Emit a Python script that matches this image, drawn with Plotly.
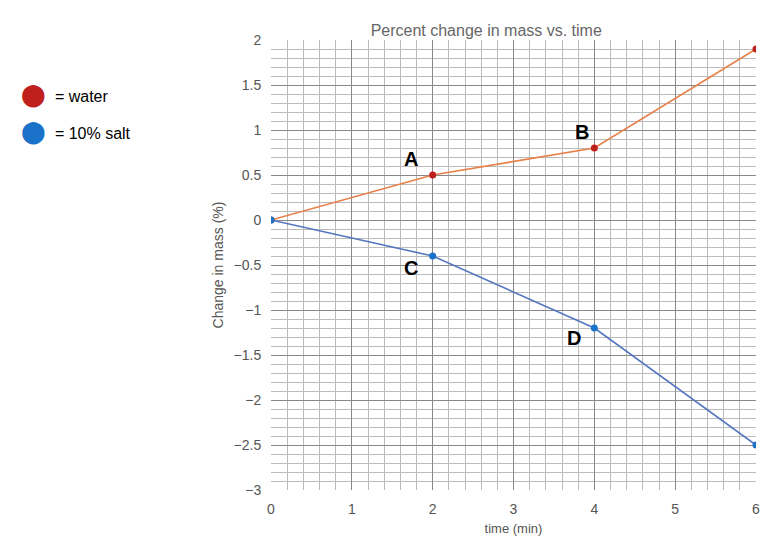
import plotly.graph_objects as go

time_min = [0, 2, 4, 6]
water = [0, 0.5, 0.8, 1.9]
salt = [0, -0.4, -1.2, -2.5]
point_labels = [("A", 2, 0.5), ("B", 4, 0.8), ("C", 2, -0.4), ("D", 4, -1.2)]

fig = go.Figure()
fig.add_trace(go.Scatter(x=time_min, y=water, mode="lines+markers",
                         line=dict(color="#e8804a", width=1.6),
                         marker=dict(color="#c0201c", size=7)))
fig.add_trace(go.Scatter(x=time_min, y=salt, mode="lines+markers",
                         line=dict(color="#5577c0", width=1.6),
                         marker=dict(color="#1a73c8", size=7)))

offsets = {"A": (-22, -16), "B": (-12, -16), "C": (-22, 12), "D": (-20, 10)}
for lab, x, y in point_labels:
    dx, dy = offsets[lab]
    fig.add_annotation(x=x, y=y, text="<b>%s</b>" % lab, showarrow=False,
                       xshift=dx, yshift=-dy, font=dict(size=20, color="black", family="Arial"))

# legend drawn at left
fig.add_annotation(xref="paper", yref="paper", x=-0.52, y=0.91,
                   text="<span style='color:#c0201c;font-size:22px'>⬤</span>  = water",
                   showarrow=False, xanchor="left", font=dict(size=16, color="black", family="Arial"))
fig.add_annotation(xref="paper", yref="paper", x=-0.52, y=0.83,
                   text="<span style='color:#1a73c8;font-size:22px'>⬤</span>  = 10% salt",
                   showarrow=False, xanchor="left", font=dict(size=16, color="black", family="Arial"))

fig.update_layout(
    width=784, height=548, showlegend=False,
    plot_bgcolor="white", paper_bgcolor="white",
    margin=dict(l=263, r=36, t=32, b=66),
    font=dict(family="Arial, sans-serif", color="#555"),
    title=dict(text="Percent change in mass vs. time", x=0.61, y=0.97,
               font=dict(size=16, color="#666")),
    xaxis=dict(range=[0, 6], dtick=1, title=dict(text="time (min)", font=dict(size=13), standoff=8),
               showgrid=True, gridcolor="#888", gridwidth=1.2,
               minor=dict(dtick=0.2, showgrid=True, gridcolor="#bbb"),
               zeroline=False, tickfont=dict(size=14, color="#555"),
               ticks="outside", ticklen=6, tickcolor="rgba(0,0,0,0)"),
    yaxis=dict(range=[-3, 2], dtick=0.5, title=dict(text="Change in mass (%)", font=dict(size=14), standoff=6),
               showgrid=True, gridcolor="#888", gridwidth=1.2,
               minor=dict(dtick=0.1, showgrid=True, gridcolor="#bbb"),
               zeroline=False, tickfont=dict(size=14, color="#555"),
               ticks="outside", ticklen=6, tickcolor="rgba(0,0,0,0)"),
)
fig.write_html("out.html")
